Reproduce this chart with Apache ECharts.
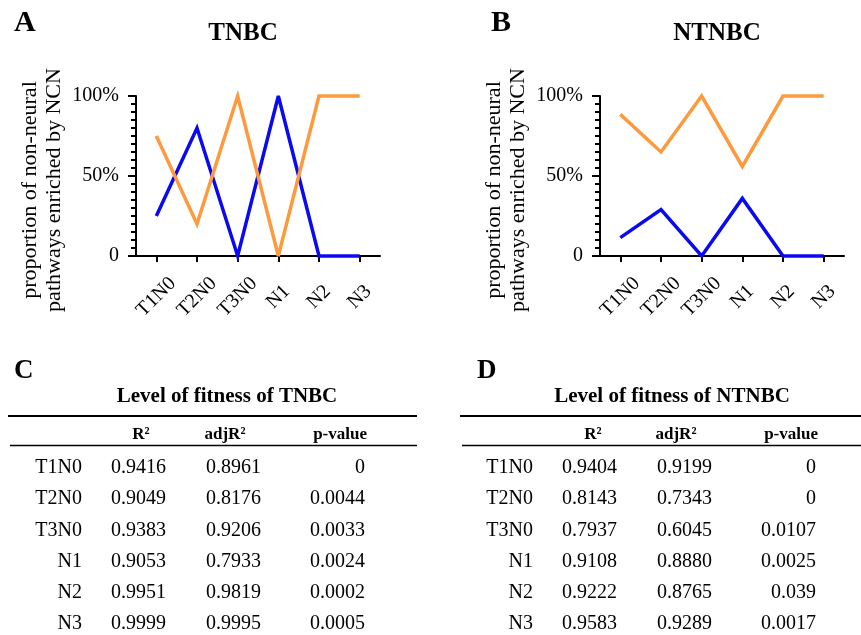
<!DOCTYPE html>
<html>
<head>
<meta charset="utf-8">
<script src="https://cdn.jsdelivr.net/npm/echarts@6/dist/echarts.min.js"></script>
<style>
html,body{margin:0;padding:0;background:#fff;}
#main{width:861px;height:635px;}
</style>
</head>
<body>
<div id="main"></div>
<script>
// ---- data ----
const categories = ['T1N0', 'T2N0', 'T3N0', 'N1', 'N2', 'N3'];
const tnbcBlue = [25, 80, 0, 100, 0, 0];
const tnbcOrange = [75, 20, 100, 0, 100, 100];
const ntnbcBlue = [11.5, 29, 0, 36, 0, 0];
const ntnbcOrange = [88.5, 65, 100, 56, 100, 100];
const yTickLabels = { 0: '0', 50: '50%', 100: '100%' };
const yAxisName = 'proportion of non-neural\npathways enriched by NCN';
const chartTitles = ['TNBC', 'NTNBC'];
const panelLetters = ['A', 'B', 'C', 'D'];

const tableTitles = ['Level of fitness of TNBC', 'Level of fitness of NTNBC'];
const tableHeaders = ['R²', 'adjR²', 'p-value'];
const tableRows = ['T1N0', 'T2N0', 'T3N0', 'N1', 'N2', 'N3'];
const tnbcR2 = ['0.9416', '0.9049', '0.9383', '0.9053', '0.9951', '0.9999'];
const tnbcAdjR2 = ['0.8961', '0.8176', '0.9206', '0.7933', '0.9819', '0.9995'];
const tnbcP = ['0', '0.0044', '0.0033', '0.0024', '0.0002', '0.0005'];
const ntnbcR2 = ['0.9404', '0.8143', '0.7937', '0.9108', '0.9222', '0.9583'];
const ntnbcAdjR2 = ['0.9199', '0.7343', '0.6045', '0.8880', '0.8765', '0.9289'];
const ntnbcP = ['0', '0', '0.0107', '0.0025', '0.039', '0.0017'];

// ---- style ----
const FONT = '"Liberation Serif", "Times New Roman", serif';
const BLUE = '#0a0af2';
const ORANGE = '#fd9a3e';

const chart = echarts.init(document.getElementById('main'), null, { renderer: 'canvas' });

function makeX(gi) {
  return {
    type: 'category', gridIndex: gi, data: categories, boundaryGap: true,
    axisLine: { show: true, lineStyle: { color: '#000', width: 2 } },
    axisTick: { show: true, alignWithLabel: true, length: 6, lineStyle: { color: '#000', width: 2 } },
    axisLabel: { rotate: 45, align: 'center', verticalAlign: 'middle', margin: 41, color: '#000',
      fontFamily: FONT, fontSize: 20, interval: 0 },
    splitLine: { show: false }
  };
}
function makeY(gi) {
  return {
    type: 'value', gridIndex: gi, min: 0, max: 100, interval: 50, position: 'left',
    axisLine: { show: true, lineStyle: { color: '#000', width: 2 } },
    axisTick: { show: true, length: 8, lineStyle: { color: '#000', width: 2 } },
    axisLabel: { margin: 17, color: '#000', fontFamily: FONT, fontSize: 20,
      formatter: v => yTickLabels[v] !== undefined ? yTickLabels[v] : '' },
    splitLine: { show: false },
    name: yAxisName, nameLocation: 'middle', nameRotate: 90, nameGap: 70,
    nameTextStyle: { color: '#000', fontFamily: FONT, fontSize: 22, lineHeight: 24, padding: [0, 28, 0, 0] }
  };
}
// secondary axis carrying only the small (minor) ticks
function makeMinorY(gi) {
  return {
    type: 'value', gridIndex: gi, min: 0, max: 100, interval: 5, position: 'left', offset: 0,
    axisLine: { show: false },
    axisTick: { show: true, length: 5, lineStyle: { color: '#000', width: 2 } },
    axisLabel: { show: false },
    splitLine: { show: false }
  };
}
function makeLine(gi, data, color) {
  return {
    type: 'line', xAxisIndex: gi, yAxisIndex: gi, data: data, showSymbol: false, symbol: 'none',
    clip: false, animation: false,
    lineStyle: { color: color, width: 3.5, join: 'miter', miterLimit: 4 }
  };
}

function txt(text, x, y, size, weight, align) {
  return { type: 'text', silent: true, style: { text: text, x: x, y: y, fill: '#000',
    fontFamily: FONT, fontSize: size, fontWeight: weight, align: align, verticalAlign: 'middle' } };
}
function hline(x1, x2, y, w) {
  return { type: 'line', silent: true, shape: { x1: x1, y1: y, x2: x2, y2: y },
    style: { stroke: '#000', lineWidth: w } };
}

function tableGraphics(L, title, r2, adj, p) {
  const g = [];
  g.push(txt(title, L.titleX, 397, 21, 'bold', 'center'));
  g.push(hline(L.lineX1, L.lineX2, 416, 2));
  g.push(txt(tableHeaders[0], L.r2H, 435, 17, 'bold', 'center'));
  g.push(txt(tableHeaders[1], L.adjH, 435, 17, 'bold', 'center'));
  g.push(txt(tableHeaders[2], L.pRight + 2, 435, 17, 'bold', 'right'));
  g.push(hline(L.lineX1 + 2, L.lineX2, 445.5, 1.5));
  tableRows.forEach((row, i) => {
    const y = 467.7 + i * 31.3;
    g.push(txt(row, L.labelRight, y, 20, 'normal', 'right'));
    g.push(txt(r2[i], L.r2C, y, 20, 'normal', 'center'));
    g.push(txt(adj[i], L.adjC, y, 20, 'normal', 'center'));
    g.push(txt(p[i], L.pRight, y, 20, 'normal', 'right'));
  });
  return g;
}

const layoutC = { titleX: 227, lineX1: 8, lineX2: 417, r2H: 141, adjH: 225, labelRight: 82, r2C: 138.5, adjC: 233.5, pRight: 365 };
const layoutD = { titleX: 672, lineX1: 460, lineX2: 861, r2H: 593, adjH: 676, labelRight: 533, r2C: 589.5, adjC: 684.5, pRight: 816 };

const graphics = [
  txt(panelLetters[0], 14, 23, 30, 'bold', 'left'),
  txt(panelLetters[1], 491, 23, 30, 'bold', 'left'),
  txt(panelLetters[2], 14, 371, 27, 'bold', 'left'),
  txt(panelLetters[3], 477, 371, 27, 'bold', 'left'),
  txt(chartTitles[0], 243, 34, 25, 'bold', 'center'),
  txt(chartTitles[1], 717, 34, 25, 'bold', 'center')
].concat(tableGraphics(layoutC, tableTitles[0], tnbcR2, tnbcAdjR2, tnbcP))
 .concat(tableGraphics(layoutD, tableTitles[1], ntnbcR2, ntnbcAdjR2, ntnbcP));

chart.setOption({
  animation: false,
  backgroundColor: '#fff',
  grid: [
    { left: 136, top: 96, width: 244, height: 160 },
    { left: 600, top: 96, width: 244, height: 160 }
  ],
  xAxis: [makeX(0), makeX(1)],
  yAxis: [makeY(0), makeY(1), makeMinorY(0), makeMinorY(1)],
  series: [
    makeLine(0, tnbcBlue, BLUE),
    makeLine(0, tnbcOrange, ORANGE),
    makeLine(1, ntnbcBlue, BLUE),
    makeLine(1, ntnbcOrange, ORANGE)
  ],
  graphic: graphics
});
</script>
</body>
</html>
